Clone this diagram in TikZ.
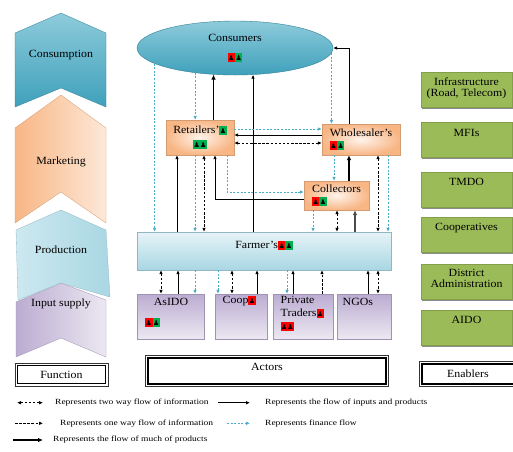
\documentclass[tikz,border=0pt]{standalone}
\usepackage{fontspec}
\setmainfont{Liberation Serif}[FakeStretch=1.08]
\newfontfamily\legfont{Liberation Serif}[FakeStretch=1.2]
\newfontfamily\symfont{DejaVu Sans}
\definecolor{conteal}{HTML}{3FA0BB}
\definecolor{conlight}{HTML}{8DCBDB}
\definecolor{mktorange}{HTML}{F8B685}
\definecolor{mktlight}{HTML}{FDE8D8}
\definecolor{prdblue}{HTML}{A9D7E3}
\definecolor{prdlight}{HTML}{E6F3F7}
\definecolor{prdmid}{HTML}{CDE8F0}
\definecolor{inplav}{HTML}{BBACD1}
\definecolor{inplight}{HTML}{ECE8F2}
\definecolor{enbgreen}{HTML}{9BBB59}
\definecolor{finblue}{HTML}{4BACC6}
\definecolor{icred}{HTML}{FF0000}
\definecolor{icgreen}{HTML}{00B050}
\usetikzlibrary{shapes.geometric, arrows.meta, positioning, shadows}
% little people icons on coloured ground
\newcommand{\icn}[2]{{\setlength{\fboxsep}{0.5pt}\colorbox{#1}{\rule[-1pt]{0pt}{8pt}\symfont\fontsize{7}{7}\selectfont#2}}}
\newcommand{\rgicn}{\icn{icred}{♟}\icn{icgreen}{♟}}

\begin{document}
\begin{tikzpicture}[x=1pt, y=-1pt, >={Latex[length=4pt,width=3.6pt]},
    font=\fontsize{11}{12.5}\selectfont,
    lbl/.style={inner sep=0.5pt, align=center},
    cnsm/.style={ellipse, minimum width=196pt, minimum height=54pt, inner sep=0pt,
                 top color=conlight, bottom color=conteal, draw=conteal!80!black,
                 line width=0.4pt, align=center},
    obox/.style={draw=mktorange!85!black, line width=0.3pt, inner color=mktlight!50!white,
                 outer color=mktorange, align=center, inner sep=2pt,
                 drop shadow={shadow xshift=1pt, shadow yshift=-1pt, fill=black!20, opacity=1}},
    fbox/.style={draw=prdblue!85!black, line width=0.3pt, top color=prdlight, bottom color=prdblue},
    ibox/.style={draw=inplav!85!black, line width=0.3pt, top color=inplav, bottom color=inplight,
                 minimum height=45pt},
    ebox/.style={fill=enbgreen, draw=enbgreen!85!black, line width=0.3pt,
                 minimum width=91pt, minimum height=35pt,
                 drop shadow={shadow xshift=0.6pt, shadow yshift=-1.6pt, fill=black!45, opacity=1}},
    frm/.style={draw, line width=1.2pt, fill=white, inner sep=1pt},
    frmout/.style={draw=black!80, line width=0.6pt},
    prod/.style={draw, line width=0.8pt, ->},
    much/.style={draw, line width=1.8pt, -{Latex[length=5pt,width=4.6pt]}},
    info/.style={draw, line width=0.8pt, dash pattern=on 2.5pt off 1.6pt, <->},
    oneinfo/.style={draw, line width=0.8pt, dash pattern=on 2.5pt off 1.6pt, ->},
    fin/.style={draw=finblue, line width=0.8pt, dash pattern=on 2pt off 1.6pt, ->},
    ltxt/.style={anchor=west, inner sep=0pt, font=\legfont\fontsize{7.9}{9}\selectfont}
  ]
  \useasboundingbox (0,0) rectangle (513,451);
  \clip (0,0) rectangle (513,451);

  % function column
  \shade[top color=conlight, bottom color=conteal, draw=conteal!80!black, line width=0.3pt]
    (15,33) -- (61,13) -- (106,33) -- (106,107) -- (61,88) -- (15,107) -- cycle;
  \shade[left color=mktorange, right color=mktlight, draw=mktorange!85!black, line width=0.3pt]
    (15,128) -- (61,95) -- (106,128) -- (106,223) -- (61,192) -- (15,223) -- cycle;
  \shade[left color=inplav, right color=inplight, draw=inplav!85!black, line width=0.3pt]
    (16,302) -- (61,283) -- (106,300) -- (106,357) -- (61,338) -- (16,357) -- cycle;
  \shade[left color=prdmid, right color=prdblue, draw=prdblue!85!black, line width=0.3pt]
    (16,230) -- (61,210) -- (106,230) -- (110,297) -- (61,283) -- (18,300) -- cycle;
  \node[lbl] (fcons) at (61,55) {Consumption};
  \node[lbl] (fmkt) at (61,162) {Marketing};
  \node[lbl] (fprod) at (61,250) {Production};
  \node[lbl] (finp) at (61,304) {Input supply};

  % actors
  \node[cnsm] (cons) at (235,48) {Consumers\\[6pt]\rgicn};
  \node[obox, minimum width=68pt, minimum height=35pt] (retail) at (200,137.5)
    {Retailers'\icn{icgreen}{♟}\\[1pt]\icn{icgreen}{♟♟}};
  \node[obox, minimum width=78pt, minimum height=31pt, align=left] (wholes) at (361,139.5)
    {Wholesaler's\\\rgicn};
  \node[obox, minimum width=65pt, minimum height=29pt, align=left] (coll) at (336.5,195.5)
    {Collectors\\\rgicn};
  \node[fbox, minimum width=254pt, minimum height=38pt] (farmer) at (264,251) {};
  \node[lbl] (farmerT) at (264,245) {Farmer's\rgicn};

  \node[ibox, minimum width=67pt] (asido) at (170.5,316.5) {};
  \node[ibox, minimum width=52pt] (coop) at (241,316.5) {};
  \node[ibox, minimum width=60pt] (priv) at (303,316.5) {};
  \node[ibox, minimum width=54pt] (ngo) at (364,316.5) {};
  \node[lbl] (asidoT) at (171,302) {AsIDO};
  \node[lbl] (asidoI) at (152.5,322) {\rgicn};
  \node[lbl, anchor=west] (coopT) at (222,301) {Coop\icn{icred}{♟}};
  \node[lbl, anchor=north west, align=left, font=\fontsize{11}{13}\selectfont] (privT) at (280,296)
    {Private\\Traders\icn{icred}{♟}\\\icn{icred}{♟♟}};
  \node[lbl, anchor=west] (ngoT) at (342,302) {NGOs};

  % enablers
  \node[ebox] (infra) at (466.5,90) {};
  \node[ebox] (mfi) at (466.5,140) {};
  \node[ebox] (tmdo) at (466.5,189.5) {};
  \node[ebox] (coops) at (466.5,235) {};
  \node[ebox] (distr) at (466.5,282) {};
  \node[ebox] (aido) at (466.5,327.5) {};
  \node[lbl, font=\fontsize{11}{11}\selectfont] (infraT) at (466.5,88.5) {Infrastructure\\(Road, Telecom)};
  \node[lbl] (mfiT) at (466.5,133) {MFIs};
  \node[lbl] (tmdoT) at (466.5,182) {TMDO};
  \node[lbl] (coopsT) at (466.5,228) {Cooperatives};
  \node[lbl, font=\fontsize{11}{11}\selectfont] (distrT) at (466.5,278.5) {District\\Administration};
  \node[lbl] (aidoT) at (466.5,320) {AIDO};

  % column headings
  \node[frm, minimum width=88pt, minimum height=18pt] (func) at (61.5,374.5) {Function};
  \node[frm, minimum width=238pt, minimum height=26pt, text depth=8pt] (actb) at (267,371) {Actors};
  \node[frm, minimum width=92pt, minimum height=20pt] (enab) at (468,374) {Enablers};
  \draw[frmout] ([shift={(-2pt,2pt)}]func.north west) rectangle ([shift={(2pt,-2pt)}]func.south east);
  \draw[frmout] ([shift={(-2pt,2pt)}]actb.north west) rectangle ([shift={(2pt,-2pt)}]actb.south east);
  \draw[frmout] ([shift={(-2pt,2pt)}]enab.north west) rectangle ([shift={(2pt,-2pt)}]enab.south east);

  % consumers links
  \draw[fin] (cons.191) -- (cons.191 |- farmer.north);
  \draw[fin] (cons.212) -- (cons.212 |- retail.north);
  \draw[much] (cons.231 |- retail.north) -- (cons.231);
  \draw[prod] (cons.304 |- farmer.north) -- (cons.304);
  \draw[fin] (cons.357) -- (cons.357 |- wholes.north);
  \draw[prod] (wholes.north -| 349,0) |- (cons.east);

  % retailers and wholesalers
  \draw[fin] (retail.east |- 0,129) -- (wholes.west |- 0,129);
  \draw[prod] (wholes.west |- 0,135) -- (retail.east |- 0,135);
  \draw[info] (retail.east |- 0,143) -- (wholes.west |- 0,143);

  % retailers, collectors and farmers
  \draw[prod] (farmer.north -| 177,0) -- (retail.south -| 177,0);
  \draw[fin] (retail.south -| 195,0) -- (farmer.north -| 195,0);
  \draw[info] (retail.south -| 204,0) -- (farmer.north -| 204,0);
  \draw[prod] (coll.west |- 0,199) -| (retail.south -| 215,0);
  \draw[fin] (retail.south -| 227,0) |- (coll.west |- 0,192);

  % wholesalers, collectors and farmers
  \draw[fin] (wholes.south -| 334,0) -- (coll.north -| 334,0);
  \draw[much] (coll.north -| 349,0) -- (wholes.south -| 349,0);
  \draw[info] (wholes.south -| 378,0) -- (farmer.north -| 378,0);
  \draw[fin] (wholes.south -| 388,0) -- (farmer.north -| 388,0);
  \draw[fin] (coll.south -| 313,0) -- (farmer.north -| 313,0);
  \draw[info] (coll.south -| 337,0) -- (farmer.north -| 337,0);
  \draw[much, black!70] (farmer.north -| 355,0) -- (coll.south -| 355,0);

  % input supply
  \draw[info] (farmer.south -| 161,0) -- (asido.north -| 161,0);
  \draw[prod] (asido.north -| 178,0) -- (farmer.south -| 178,0);
  \draw[fin] (farmer.south -| 195,0) -- (asido.north -| 195,0);
  \draw[fin] (farmer.south -| 218,0) -- (coop.north -| 218,0);
  \draw[info] (farmer.south -| 232,0) -- (coop.north -| 232,0);
  \draw[prod] (coop.north -| 257,0) -- (farmer.south -| 257,0);
  \draw[fin] (farmer.south -| 287,0) -- (priv.north -| 287,0);
  \draw[prod] (priv.north -| 293,0) -- (farmer.south -| 293,0);
  \draw[oneinfo] (priv.north -| 322,0) -- (farmer.south -| 322,0);
  \draw[prod] (ngo.north -| 368,0) -- (farmer.south -| 368,0);
  \draw[info] (farmer.south -| 378,0) -- (ngo.north -| 378,0);

  % legend
  \coordinate (la1) at (17,402.7);  \coordinate (lb1) at (43,402.7);
  \coordinate (la2) at (218,402.7); \coordinate (lb2) at (250,402.7);
  \coordinate (la3) at (15,423.3);  \coordinate (lb3) at (43,423.3);
  \coordinate (la4) at (227,423.3); \coordinate (lb4) at (250,423.3);
  \coordinate (la5) at (13,440);    \coordinate (lb5) at (43,440);
  \draw[info] (la1) -- (lb1);
  \draw[prod] (la2) -- (lb2);
  \draw[oneinfo] (la3) -- (lb3);
  \draw[fin] (la4) -- (lb4);
  \draw[much] (la5) -- (lb5);
  \node[ltxt] (lt1) at (55,402.7) {Represents two way flow of information};
  \node[ltxt] (lt2) at (265,402.7) {Represents the flow of inputs and products};
  \node[ltxt] (lt3) at (60,423.3) {Represents one way flow of information};
  \node[ltxt] (lt4) at (265,423.3) {Represents finance flow};
  \node[ltxt] (lt5) at (53,440) {Represents the flow of much of products};
\end{tikzpicture}
\end{document}
